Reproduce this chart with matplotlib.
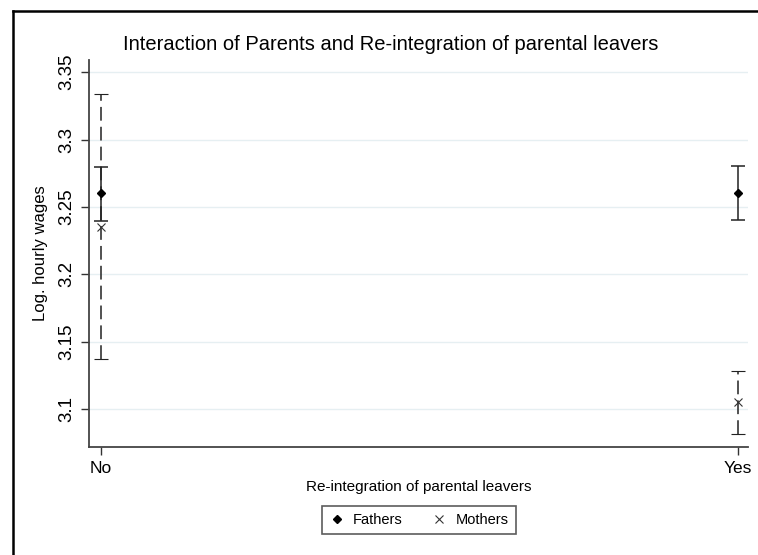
import matplotlib
matplotlib.use("Agg")
from matplotlib import pyplot as plt
from matplotlib.lines import Line2D

plt.rcParams['font.family'] = ['Liberation Sans', 'DejaVu Sans']

categories = ['No', 'Yes']
fathers_mean = [3.260, 3.260]
fathers_low = [3.2397, 3.2402]
fathers_high = [3.2798, 3.2805]
mothers_mean = [3.2348, 3.105]
mothers_low = [3.1373, 3.0812]
mothers_high = [3.3337, 3.1282]
yticks = [3.1, 3.15, 3.2, 3.25, 3.3, 3.35]
ytick_labels = ['3.1', '3.15', '3.2', '3.25', '3.3', '3.35']

fig = plt.figure(figsize=(7.58, 5.55), dpi=100, facecolor='w')
ax = fig.add_axes([89 / 758, 1 - 447 / 555, (748 - 89) / 758, (447 - 60) / 555])

x = list(range(len(categories)))

# fathers: solid caps
fe = ax.errorbar(x, fathers_mean,
                 yerr=[[m - l for m, l in zip(fathers_mean, fathers_low)],
                       [h - m for m, h in zip(fathers_mean, fathers_high)]],
                 fmt='D', color='black', ms=4, ecolor='#222222', elinewidth=1.1,
                 capsize=5, capthick=1.1, zorder=3)

# mothers: dashed
me = ax.errorbar(x, mothers_mean,
                 yerr=[[m - l for m, l in zip(mothers_mean, mothers_low)],
                       [h - m for m, h in zip(mothers_mean, mothers_high)]],
                 fmt='x', color='#333333', ms=6, mew=0.8, ecolor='#222222',
                 elinewidth=1.1, capsize=5, capthick=1.1, zorder=3)
for bar in me[2]:
    bar.set_linestyle((0, (9, 4)))

ax.set_xlim(-0.0188, 1.0157)
ax.set_ylim(3.0718, 3.359)
ax.set_xticks(x)
ax.set_xticklabels(categories, fontsize=12.5)
ax.set_yticks(yticks)
ax.set_yticklabels(ytick_labels, fontsize=13.5, rotation=90, va='center')
ax.tick_params(axis='both', length=6, width=1, color='#333333', pad=4)

ax.grid(axis='y', color='#e6eff2', lw=1)
ax.set_axisbelow(True)
for s in ['top', 'right']:
    ax.spines[s].set_visible(False)
for s in ['left', 'bottom']:
    ax.spines[s].set_color('#444444')
    ax.spines[s].set_linewidth(1.3)

ax.set_ylabel('Log. hourly wages', fontsize=12, labelpad=7)
ax.set_xlabel('Re-integration of parental leavers', fontsize=11, labelpad=3)
fig.text(391 / 758, 1 - 44 / 555, 'Interaction of Parents and Re-integration of parental leavers',
         ha='center', va='center', fontsize=14.5)

handles = [Line2D([], [], marker='D', color='black', ls='none', ms=4),
           Line2D([], [], marker='x', color='#333333', ls='none', ms=6, mew=0.8)]
leg = fig.legend(handles, ['Fathers', 'Mothers'], loc='center',
                 bbox_to_anchor=(419 / 758, 1 - 520 / 555), ncol=2, fontsize=10.5,
                 frameon=True, fancybox=False, edgecolor='#333333',
                 handlelength=1.0, handletextpad=0.6, columnspacing=2.0,
                 borderpad=0.5)
leg.get_frame().set_linewidth(1.2)

# outer frame (cropped at right and bottom)
fig.add_artist(Line2D([13 / 758, 13 / 758], [0, 1 - 11 / 555], transform=fig.transFigure,
                      color='black', lw=1.8))
fig.add_artist(Line2D([13 / 758, 1], [1 - 11 / 555, 1 - 11 / 555], transform=fig.transFigure,
                      color='black', lw=1.8))

fig.savefig('out.png', dpi=100)
